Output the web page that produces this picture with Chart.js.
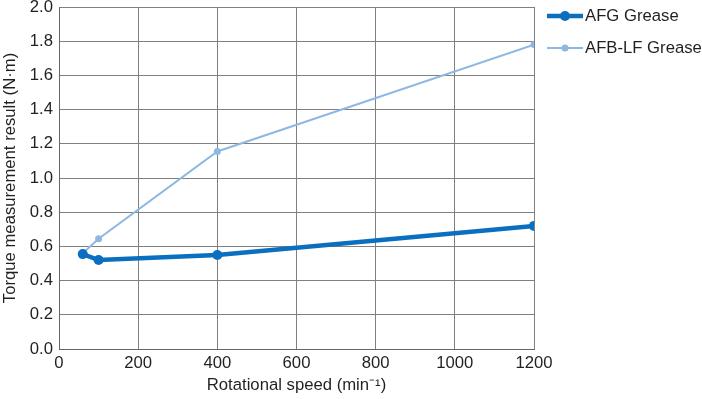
<!DOCTYPE html>
<html>
<head>
<meta charset="utf-8">
<script src="https://cdn.jsdelivr.net/npm/chart.js@4/dist/chart.umd.min.js"></script>
<style>
html,body{margin:0;padding:0;background:#fff;}
#wrap{width:702px;height:399px;}
</style>
</head>
<body>
<div id="wrap"><canvas id="c" width="702" height="399"></canvas></div>
<script>
const speeds = [60, 100, 400, 1200];
const afgGrease = [0.555, 0.52, 0.55, 0.72];
const afbLfGrease = [0.56, 0.645, 1.155, 1.78];
const seriesNames = ['AFG Grease', 'AFB-LF Grease'];
const xTitle = 'Rotational speed (min\u207B\u00B9)';
const yTitle = 'Torque measurement result (N\u00B7m)';

const DARK = '#0b6fc0';
const LIGHT = '#8db8e3';
const FONT = "'Liberation Sans', Arial, sans-serif";
const FS = 16.7;
const TXT = '#231f20';

const legendPlugin = {
  id: 'customLegend',
  afterDraw(chart) {
    const ctx = chart.ctx;
    const items = [
      {y: 16, ds: chart.data.datasets[0]},
      {y: 48, ds: chart.data.datasets[1]}
    ];
    ctx.save();
    items.forEach(it => {
      const ds = it.ds;
      ctx.strokeStyle = ds.borderColor;
      ctx.lineWidth = ds.borderWidth;
      ctx.beginPath();
      ctx.moveTo(547, it.y);
      ctx.lineTo(583, it.y);
      ctx.stroke();
      ctx.fillStyle = ds.pointBackgroundColor;
      ctx.beginPath();
      ctx.arc(565, it.y, ds.pointRadius, 0, Math.PI * 2);
      ctx.fill();
      ctx.fillStyle = TXT;
      ctx.font = FS + 'px ' + FONT;
      ctx.textBaseline = 'middle';
      ctx.textAlign = 'left';
      ctx.fillText(ds.label, 585, it.y);
    });
    ctx.restore();
  }
};

new Chart(document.getElementById('c'), {
  type: 'line',
  data: {
    datasets: [
      {
        label: seriesNames[0],
        data: speeds.map((s, i) => ({x: s, y: afgGrease[i]})),
        borderColor: DARK,
        backgroundColor: DARK,
        pointBackgroundColor: DARK,
        pointBorderColor: DARK,
        borderWidth: 4.5,
        pointRadius: 5,
        pointBorderWidth: 0,
        tension: 0
      },
      {
        label: seriesNames[1],
        data: speeds.map((s, i) => ({x: s, y: afbLfGrease[i]})),
        borderColor: LIGHT,
        backgroundColor: LIGHT,
        pointBackgroundColor: LIGHT,
        pointBorderColor: LIGHT,
        borderWidth: 2,
        pointRadius: 3.5,
        pointBorderWidth: 0,
        tension: 0
      }
    ]
  },
  options: {
    responsive: false,
    animation: false,
    events: [],
    layout: {padding: {top: 7, right: 168, left: 0, bottom: 0}},
    plugins: {legend: {display: false}, tooltip: {enabled: false}},
    scales: {
      x: {
        type: 'linear',
        min: 0, max: 1200,
        afterFit(s) { s.height = 50; s.paddingLeft = 0; s.paddingRight = 0; },
        ticks: {stepSize: 200, padding: 4, color: TXT, font: {family: FONT, size: FS}, maxRotation: 0, callback: v => String(v)},
        grid: {color: '#808080', lineWidth: 1, drawTicks: false},
        border: {color: '#666666', width: 1},
        title: {display: true, text: xTitle, color: TXT, font: {family: FONT, size: FS}, padding: {top: 0, bottom: 4}}
      },
      y: {
        min: 0, max: 2,
        afterFit(s) { s.width = 59; s.paddingTop = 0; s.paddingBottom = 0; },
        ticks: {stepSize: 0.2, padding: 6, color: TXT, font: {family: FONT, size: FS}, callback: v => v.toFixed(1)},
        grid: {color: '#808080', lineWidth: 1, drawTicks: false},
        border: {color: '#666666', width: 1},
        title: {display: true, text: yTitle, color: TXT, font: {family: FONT, size: FS}, padding: {top: 0, bottom: 0}}
      }
    }
  },
  plugins: [legendPlugin]
});
</script>
</body>
</html>
